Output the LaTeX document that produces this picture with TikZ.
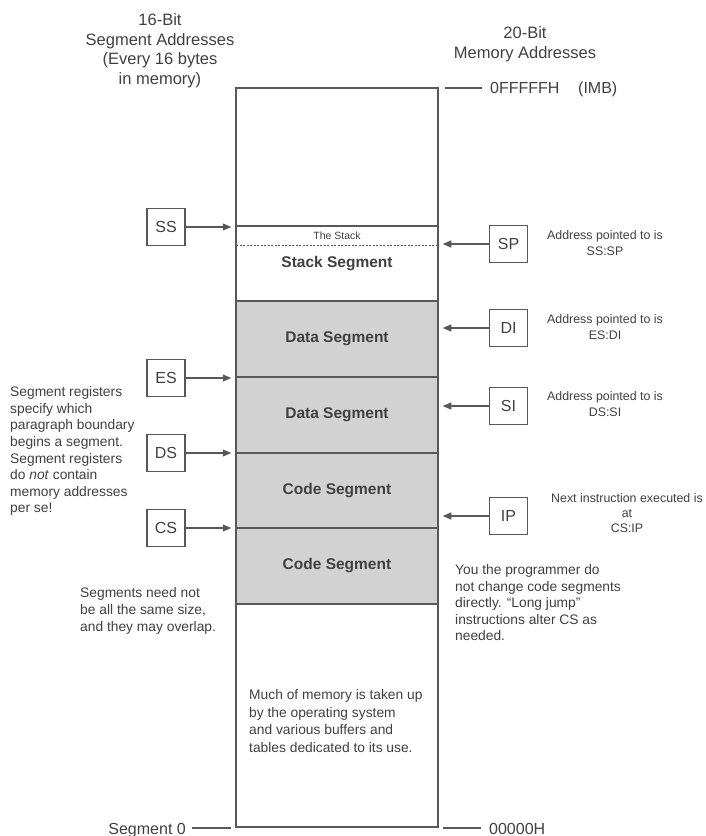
\documentclass[tikz,border=0pt]{standalone}
\usepackage{fontspec}
\setmainfont{Liberation Sans}
\usetikzlibrary{arrows.meta}
\definecolor{ink}{HTML}{404040}
\definecolor{segfill}{HTML}{D2D2D2}
\definecolor{edge}{HTML}{585858}
\begin{document}
\begin{tikzpicture}[x=1pt,y=-1pt,
  reg/.style={draw=edge,line width=1.2pt,minimum width=38pt,minimum height=37pt,inner sep=0pt,
    font=\fontsize{16}{18}\selectfont,text=ink},
  ptr/.style={draw=edge,line width=1.1pt,-{Triangle[length=8.5pt,width=7pt]},shorten >=4pt},
  seg/.style={draw=edge,line width=1.4pt,fill=segfill,minimum width=202pt,inner sep=0pt,
    font=\fontsize{15.5}{18}\selectfont\bfseries,text=ink},
  lab/.style={font=\fontsize{15.5}{18}\selectfont\bfseries,text=ink,inner sep=0pt},
  note/.style={font=\fontsize{13.8}{16.6}\selectfont,text=ink,align=left,inner sep=0pt},
  anno/.style={font=\fontsize{12.4}{16}\selectfont,text=ink,align=center,inner sep=0pt},
  head/.style={font=\fontsize{16.5}{19.5}\selectfont,text=ink,align=center,inner sep=0pt},
  addr/.style={font=\fontsize{16}{19}\selectfont,text=ink,inner sep=0pt},
  tick/.style={draw=edge,line width=1.1pt}]
\useasboundingbox (0,0) rectangle (705,836);

% headings
\node[head,anchor=north] (lhead) at (160,13.5) {16-Bit\\Segment Addresses\\(Every 16 bytes\\in memory)};
\node[head,anchor=north] (rhead) at (525,26.5) {20-Bit\\Memory Addresses};

% memory column segments
\node[seg,minimum height=76pt] (d1) at (337,339) {Data Segment};
\node[seg,minimum height=76pt] (d2) at (337,415) {Data Segment};
\node[seg,minimum height=75pt] (c1) at (337,490.5) {Code Segment};
\node[seg,minimum height=76pt] (c2) at (337,566) {Code Segment};
\node[draw=edge,line width=1.5pt,minimum width=202pt,minimum height=739pt,inner sep=0pt] (mem) at (337,457.5) {};

% stack
\draw[draw=edge,line width=1.1pt] (236,226) -- (438,226);
\draw[draw=edge,line width=0.9pt,dash pattern=on 2pt off 1.5pt] (236,245) -- (438,245);
\node[font=\fontsize{10.5}{12}\selectfont,text=ink,inner sep=0pt] (stk) at (337,235.5) {The Stack};
\node[lab] (stkseg) at (337,264) {Stack Segment};

% top / bottom addresses
\draw[tick] (445,88) -- (482,88);
\node[addr,anchor=base west] (top) at (490,93.7) {0FFFFFH};
\node[addr,anchor=base west] (mb) at (578,93.7) {(IMB)};
\draw[tick] (192,828) -- (231,828);
\draw[tick] (443,828) -- (481,828);
\node[addr,anchor=base east] (seg0) at (186,834) {Segment 0};
\node[addr,anchor=base west] (bot) at (489,834) {00000H};

% segment registers (left)
\node[reg] (ss) at (166,227) {SS};
\node[reg] (es) at (166,378) {ES};
\node[reg] (ds) at (166,453) {DS};
\node[reg] (cs) at (166,528) {CS};
\foreach \r in {ss,es,ds,cs}
  \draw[ptr] (\r.east) -- (\r.east -| mem.west);

% offset registers (right)
\node[reg] (sp) at (508.5,244) {SP};
\node[reg] (di) at (508.5,328) {DI};
\node[reg] (si) at (508.5,406) {SI};
\node[reg] (ip) at (508.5,516) {IP};
\foreach \r in {sp,di,si,ip}
  \draw[ptr] (\r.west) -- (\r.west -| mem.east);

% annotations
\node[anno,anchor=north] (asp) at (605,230.5) {Address pointed to is\\SS:SP};
\node[anno,anchor=north] (adi) at (605,314.5) {Address pointed to is\\ES:DI};
\node[anno,anchor=north] (asi) at (605,391.5) {Address pointed to is\\DS:SI};
\node[anno,anchor=north,font=\fontsize{12.4}{15}\selectfont] (aip) at (627,493.5) {Next instruction executed is\\at\\CS:IP};

\node[note,anchor=north west] (lnote) at (10,386.5) {Segment registers\\specify which\\paragraph boundary\\begins a segment.\\Segment registers\\do \textit{not} contain\\memory addresses\\per se!};
\node[note,anchor=north west,font=\fontsize{13.8}{17}\selectfont] (snote) at (80,587.5) {Segments need not\\be all the same size,\\and they may overlap.};
\node[note,anchor=north west,font=\fontsize{13.8}{16.5}\selectfont] (pnote) at (455,564.5) {You the programmer do\\not change code segments\\directly. ``Long jump''\\instructions alter CS as\\needed.};
\node[note,anchor=north west,font=\fontsize{13.8}{17.5}\selectfont] (mnote) at (249,689.5) {Much of memory is taken up\\by the operating system\\and various buffers and\\tables dedicated to its use.};
\end{tikzpicture}
\end{document}
